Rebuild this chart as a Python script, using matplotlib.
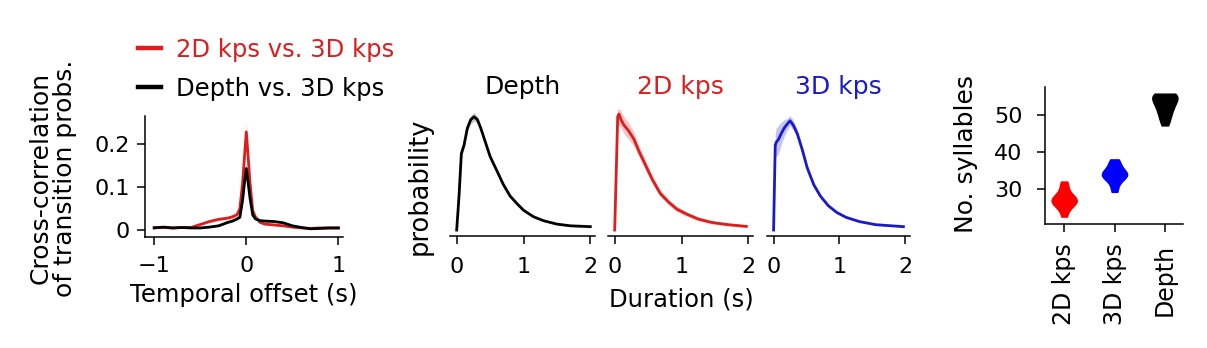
import numpy as np
import matplotlib
matplotlib.use("Agg")
import matplotlib.pyplot as plt

# ------------------------------
# Data
# ------------------------------
# cross-correlation of transition probabilities vs temporal offset
offset = [-1.0, -0.9, -0.8, -0.7, -0.6, -0.5, -0.4, -0.3, -0.2, -0.15, -0.1, -0.07, -0.04, -0.02,
          0.0, 0.02, 0.04, 0.07, 0.1, 0.15, 0.2, 0.3, 0.4, 0.5, 0.6, 0.7, 0.8, 0.9, 1.0]
xcorr_2d = [0.006, 0.006, 0.005, 0.006, 0.006, 0.013, 0.020, 0.025, 0.028, 0.031, 0.036, 0.050, 0.110, 0.170,
            0.228, 0.170, 0.110, 0.045, 0.030, 0.018, 0.014, 0.012, 0.010, 0.007, 0.005, 0.004, 0.005, 0.005, 0.005]
xcorr_2d_err = [0.001, 0.001, 0.001, 0.001, 0.001, 0.002, 0.003, 0.003, 0.003, 0.003, 0.004, 0.006, 0.010, 0.015,
                0.020, 0.015, 0.010, 0.006, 0.004, 0.003, 0.002, 0.002, 0.002, 0.001, 0.001, 0.001, 0.001, 0.001, 0.001]
xcorr_depth = [0.005, 0.007, 0.005, 0.006, 0.005, 0.005, 0.007, 0.010, 0.018, 0.021, 0.026, 0.030, 0.070, 0.110,
               0.143, 0.110, 0.075, 0.035, 0.026, 0.022, 0.021, 0.020, 0.017, 0.010, 0.006, 0.003, 0.004, 0.005, 0.005]
xcorr_depth_err = [0.001, 0.001, 0.001, 0.001, 0.001, 0.001, 0.001, 0.002, 0.002, 0.002, 0.002, 0.003, 0.005, 0.007,
                   0.008, 0.007, 0.005, 0.003, 0.002, 0.002, 0.002, 0.002, 0.001, 0.001, 0.001, 0.001, 0.001, 0.001, 0.001]

# syllable duration distributions
dur_depth = [0, 0.035, 0.07, 0.11, 0.16, 0.21, 0.26, 0.31, 0.36, 0.43, 0.5, 0.6, 0.7, 0.8, 0.9, 1.0,
             1.15, 1.3, 1.5, 1.7, 2.0]
prob_depth = [0, 0.012, 0.027, 0.030, 0.036, 0.039, 0.040, 0.039, 0.036, 0.031, 0.026, 0.021, 0.016, 0.012,
              0.0094, 0.0070, 0.0047, 0.0033, 0.0021, 0.0015, 0.0012]
err_depth = [0, 0.001, 0.001, 0.0012, 0.0012, 0.0015, 0.0015, 0.0012, 0.001, 0.0008, 0.0008, 0.0007, 0.0006,
             0.0005, 0.0005, 0.0004, 0.0004, 0.0003, 0.0003, 0.0002, 0.0002]

dur_2d = [0, 0.025, 0.045, 0.064, 0.094, 0.14, 0.21, 0.29, 0.36, 0.46, 0.56, 0.68, 0.81, 0.93, 1.08, 1.25,
          1.45, 1.7, 1.97]
prob_2d = [0, 0.022, 0.040, 0.041, 0.039, 0.037, 0.035, 0.032, 0.028, 0.023, 0.018, 0.013, 0.0098, 0.0074,
           0.0056, 0.0039, 0.0027, 0.0019, 0.0013]
err_2d = [0, 0.003, 0.005, 0.004, 0.003, 0.003, 0.003, 0.0025, 0.002, 0.0018, 0.0015, 0.0012, 0.001, 0.001,
          0.0008, 0.0007, 0.0006, 0.0005, 0.0004]

dur_3d = [0, 0.025, 0.04, 0.074, 0.114, 0.16, 0.21, 0.25, 0.30, 0.36, 0.44, 0.51, 0.61, 0.71, 0.83, 0.96,
          1.10, 1.30, 1.55, 1.97]
prob_3d = [0, 0.030, 0.031, 0.032, 0.034, 0.036, 0.0375, 0.0386, 0.037, 0.034, 0.028, 0.022, 0.016, 0.012,
           0.0086, 0.0062, 0.0045, 0.0030, 0.0019, 0.0012]
err_3d = [0, 0.004, 0.005, 0.005, 0.004, 0.003, 0.002, 0.0018, 0.0018, 0.0015, 0.0012, 0.001, 0.0008, 0.0007,
          0.0006, 0.0005, 0.0004, 0.0003, 0.0003, 0.0002]

# number of syllables per model
model_names = ["2D kps", "3D kps", "Depth"]
syl_2d = [22.5, 24.5, 25.5, 26, 26.5, 27, 27, 27.5, 28, 29, 30.5, 32]
syl_3d = [29.2, 31, 32.5, 33, 33.5, 34, 34, 34.5, 35, 36, 37, 38]
syl_depth = [47.2, 48.5, 49.5, 50.5, 51, 52, 52.5, 53, 53.5, 54, 54.5, 55, 55.3, 55.6, 55.8, 55.8]

RED = "#dc1e1e"
BLUE = "#1a1acc"

plt.rcParams["font.family"] = "DejaVu Sans"
plt.rcParams["axes.linewidth"] = 1.1
plt.rcParams["xtick.major.width"] = 1.1
plt.rcParams["ytick.major.width"] = 1.1
plt.rcParams["xtick.major.size"] = 6
plt.rcParams["ytick.major.size"] = 6

W, H = 1207, 348
fig = plt.figure(figsize=(W / 100, H / 100), dpi=100)

TICK_FS = 16
LABEL_FS = 17.5


def px_axes(left, top, right, bottom):
    return fig.add_axes([left / W, 1 - bottom / H, (right - left) / W, (bottom - top) / H])


# ------------------------------
# Cross-correlation panel
# ------------------------------
ax = px_axes(145, 116, 343, 237)
ax.fill_between(offset, np.subtract(xcorr_2d, xcorr_2d_err), np.add(xcorr_2d, xcorr_2d_err),
                color=RED, alpha=0.25, lw=0)
ax.fill_between(offset, np.subtract(xcorr_depth, xcorr_depth_err), np.add(xcorr_depth, xcorr_depth_err),
                color="black", alpha=0.2, lw=0)
l1, = ax.plot(offset, xcorr_2d, color=RED, lw=2.0, label="2D kps vs. 3D kps")
l2, = ax.plot(offset, xcorr_depth, color="black", lw=2.0, label="Depth vs. 3D kps")
ax.set_xlim(-1.1, 1.05)
ax.set_ylim(-0.016, 0.265)
ax.set_xticks([-1, 0, 1])
ax.set_xticklabels(["\u22121", "0", "1"])
ax.set_yticks([0, 0.1, 0.2])
ax.set_yticklabels(["0", "0.1", "0.2"])
ax.tick_params(axis="x", labelsize=TICK_FS, pad=8)
ax.tick_params(axis="y", labelsize=TICK_FS, pad=5)
for s in ["top", "right"]:
    ax.spines[s].set_visible(False)
ax.set_xlabel("Temporal offset (s)", fontsize=LABEL_FS, labelpad=5)
fig.text(53 / W, 1 - 178 / H, "Cross-correlation\nof transition probs.", rotation=90,
         ha="center", va="center", multialignment="center", fontsize=18, linespacing=1.05)

leg = fig.legend(handles=[l1, l2], loc="upper left", bbox_to_anchor=(138 / W, 1 - 38 / H),
                 frameon=False, fontsize=17.5, handlelength=0.95, handletextpad=0.6,
                 labelspacing=0.6, borderpad=0, borderaxespad=0, labelcolor="linecolor")
for h in leg.get_lines():
    h.set_linewidth(3.2)

# ------------------------------
# Duration panels
# ------------------------------
dur_panels = [
    ((450, 595), "Depth", "black", dur_depth, prob_depth, err_depth, 0.22),
    ((608, 753), "2D kps", RED, dur_2d, prob_2d, err_2d, 0.25),
    ((767, 910), "3D kps", BLUE, dur_3d, prob_3d, err_3d, 0.25),
]
for (left, right), title, col, xs, ys, es, a in dur_panels:
    ax = px_axes(left, 110, right, 236)
    ax.fill_between(xs, np.subtract(ys, es), np.add(ys, es), color=col, alpha=a, lw=0)
    ax.plot(xs, ys, color=col, lw=2.0)
    ax.set_xlim(-0.1, 2.07)
    ax.set_ylim(-0.0021, 0.0424)
    ax.set_xticks([0, 1, 2])
    ax.set_yticks([])
    ax.tick_params(axis="x", labelsize=TICK_FS, pad=9)
    for s in ["top", "right", "left"]:
        ax.spines[s].set_visible(False)
    fig.text((left + right) / 2 / W, 1 - 87 / H, title, color=col, fontsize=18,
             ha="center", va="center")
fig.text(681 / W, 1 - 300 / H, "Duration (s)", fontsize=LABEL_FS, ha="center", va="center")
fig.text(420 / W, 1 - 186 / H, "probability", rotation=90, fontsize=18.5, ha="center", va="center")

# ------------------------------
# Number of syllables panel
# ------------------------------
ax = px_axes(1045, 87, 1183, 224)
parts = ax.violinplot([syl_2d, syl_3d, syl_depth], positions=[0, 1, 2], widths=0.5,
                      showextrema=False, bw_method=0.5)
for body, col in zip(parts["bodies"], ["red", "blue", "black"]):
    body.set_facecolor(col)
    body.set_edgecolor(col)
    body.set_alpha(1)
ax.set_xlim(-0.38, 2.36)
ax.set_ylim(20.5, 57.6)
ax.set_yticks([30, 40, 50])
ax.set_xticks([0, 1, 2])
ax.set_xticklabels(model_names, rotation=90, fontsize=17)
ax.tick_params(axis="y", labelsize=TICK_FS, pad=10)
ax.tick_params(axis="x", pad=8)
for s in ["top", "right"]:
    ax.spines[s].set_visible(False)
fig.text(966 / W, 1 - 154 / H, "No. syllables", rotation=90, fontsize=18, ha="center", va="center")

fig.savefig("out.png", dpi=100)
